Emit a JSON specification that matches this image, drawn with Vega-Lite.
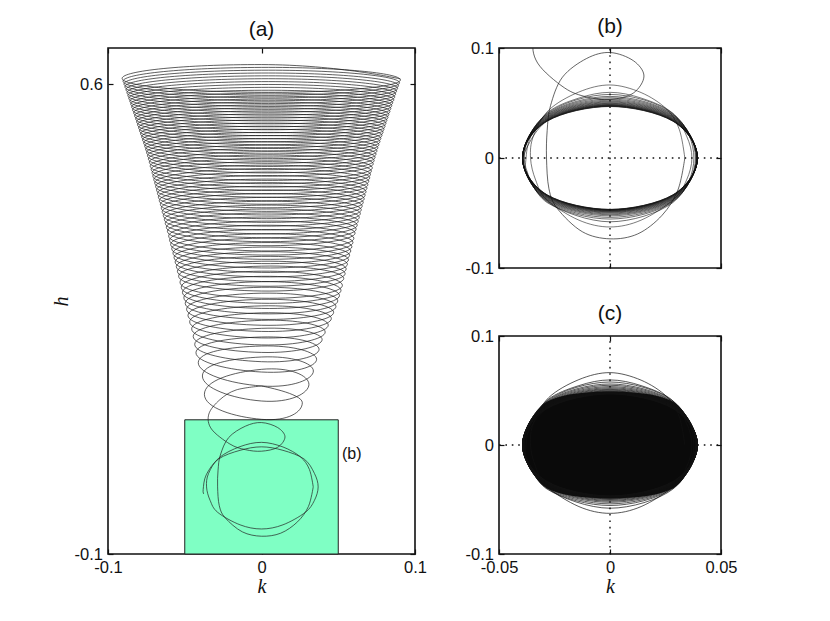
{"$schema":"https://vega.github.io/schema/vega-lite/v6.json","padding":{"left":50,"top":15,"right":0,"bottom":0},"background":"white","bounds":"flush","spacing":84,
"config":{"view":{"stroke":"#111","strokeWidth":1.6},"axis":{"grid":false,"domain":false,"offset":-5,"tickColor":"#111","tickWidth":1.2,"tickSize":5,"labelFont":"Liberation Sans","labelFontSize":16.5,"labelColor":"#111","labelFlush":false,"labelOverlap":false,"labelBound":false,"labelPadding":5.5,"titleFont":"Liberation Serif","titleFontStyle":"italic","titleFontWeight":"normal","titleFontSize":20,"titleColor":"#111","labelExpr":"replace(format(datum.value,'~g'),'\u2212','-')"},"title":{"font":"Liberation Sans","fontSize":21,"fontWeight":"normal","color":"#111","offset":7}},
"datasets":{
"cone":[{"k":0.0905,"h":0.608},{"k":0,"h":0.6294},{"k":-0.0908,"h":0.6088},{"k":0,"h":0.5881},{"k":0.0905,"h":0.6065},{"k":0,"h":0.6252},{"k":-0.0902,"h":0.6046},{"k":0,"h":0.5839},{"k":0.0899,"h":0.6023},{"k":0,"h":0.621},{"k":-0.0896,"h":0.6004},{"k":0,"h":0.5797},{"k":0.0893,"h":0.5981},{"k":0,"h":0.6168},{"k":-0.089,"h":0.5962},{"k":0,"h":0.5755},{"k":0.0887,"h":0.5939},{"k":0,"h":0.6126},{"k":-0.0883,"h":0.592},{"k":0,"h":0.5713},{"k":0.088,"h":0.5897},{"k":0,"h":0.6083},{"k":-0.0877,"h":0.5877},{"k":0,"h":0.567},{"k":0.0874,"h":0.5854},{"k":0,"h":0.604},{"k":-0.0871,"h":0.5834},{"k":0,"h":0.5627},{"k":0.0868,"h":0.5811},{"k":0,"h":0.5997},{"k":-0.0865,"h":0.5791},{"k":0,"h":0.5584},{"k":0.0862,"h":0.5768},{"k":0,"h":0.5954},{"k":-0.0858,"h":0.5748},{"k":0,"h":0.5541},{"k":0.0855,"h":0.5725},{"k":0,"h":0.5911},{"k":-0.0852,"h":0.5705},{"k":0,"h":0.5498},{"k":0.0849,"h":0.5682},{"k":0,"h":0.5868},{"k":-0.0846,"h":0.5662},{"k":0,"h":0.5455},{"k":0.0843,"h":0.5639},{"k":0,"h":0.5824},{"k":-0.084,"h":0.5618},{"k":0,"h":0.5411},{"k":0.0837,"h":0.5595},{"k":0,"h":0.578},{"k":-0.0833,"h":0.5574},{"k":0,"h":0.5367},{"k":0.083,"h":0.5551},{"k":0,"h":0.5736},{"k":-0.0827,"h":0.553},{"k":0,"h":0.5323},{"k":0.0824,"h":0.5507},{"k":0,"h":0.5692},{"k":-0.082,"h":0.5486},{"k":0,"h":0.5279},{"k":0.0817,"h":0.5463},{"k":0,"h":0.5648},{"k":-0.0814,"h":0.5442},{"k":0,"h":0.5235},{"k":0.0811,"h":0.5419},{"k":0,"h":0.5603},{"k":-0.0808,"h":0.5397},{"k":0,"h":0.519},{"k":0.0805,"h":0.5374},{"k":0,"h":0.5558},{"k":-0.0801,"h":0.5352},{"k":0,"h":0.5145},{"k":0.0798,"h":0.5329},{"k":0,"h":0.5513},{"k":-0.0795,"h":0.5307},{"k":0,"h":0.51},{"k":0.0792,"h":0.5284},{"k":0,"h":0.5468},{"k":-0.0788,"h":0.5262},{"k":0,"h":0.5055},{"k":0.0785,"h":0.5239},{"k":0,"h":0.5422},{"k":-0.0781,"h":0.5216},{"k":0,"h":0.5009},{"k":0.0778,"h":0.5193},{"k":0,"h":0.5376},{"k":-0.0775,"h":0.517},{"k":0,"h":0.4963},{"k":0.0772,"h":0.5147},{"k":0,"h":0.533},{"k":-0.0768,"h":0.5124},{"k":0,"h":0.4917},{"k":0.0765,"h":0.5101},{"k":0,"h":0.5283},{"k":-0.0761,"h":0.5077},{"k":0,"h":0.487},{"k":0.0758,"h":0.5054},{"k":0,"h":0.5236},{"k":-0.0755,"h":0.503},{"k":0,"h":0.4823},{"k":0.0752,"h":0.5007},{"k":0,"h":0.5189},{"k":-0.0749,"h":0.4983},{"k":0,"h":0.4776},{"k":0.0746,"h":0.496},{"k":0,"h":0.5141},{"k":-0.0743,"h":0.4935},{"k":0,"h":0.4728},{"k":0.074,"h":0.4912},{"k":0,"h":0.5093},{"k":-0.0737,"h":0.4887},{"k":0,"h":0.468},{"k":0.0734,"h":0.4864},{"k":0,"h":0.5044},{"k":-0.0731,"h":0.4838},{"k":0,"h":0.4631},{"k":0.0728,"h":0.4815},{"k":0,"h":0.4995},{"k":-0.0725,"h":0.4781},{"k":0,"h":0.4568},{"k":0.0722,"h":0.4755},{"k":0,"h":0.4946},{"k":-0.0719,"h":0.4732},{"k":0,"h":0.4519},{"k":0.0716,"h":0.4706},{"k":0,"h":0.4896},{"k":-0.0713,"h":0.4682},{"k":0,"h":0.4469},{"k":0.071,"h":0.4656},{"k":0,"h":0.4846},{"k":-0.0708,"h":0.4632},{"k":0,"h":0.4419},{"k":0.0705,"h":0.4606},{"k":0,"h":0.4795},{"k":-0.0702,"h":0.4581},{"k":0,"h":0.4368},{"k":0.0699,"h":0.4555},{"k":0,"h":0.4744},{"k":-0.0696,"h":0.453},{"k":0,"h":0.4317},{"k":0.0693,"h":0.4504},{"k":0,"h":0.4692},{"k":-0.069,"h":0.4478},{"k":0,"h":0.4265},{"k":0.0687,"h":0.4452},{"k":0,"h":0.464},{"k":-0.0684,"h":0.4426},{"k":0,"h":0.4213},{"k":0.0681,"h":0.44},{"k":0,"h":0.4587},{"k":-0.0678,"h":0.4373},{"k":0,"h":0.416},{"k":0.0675,"h":0.4347},{"k":0,"h":0.4534},{"k":-0.0672,"h":0.432},{"k":0,"h":0.4107},{"k":0.0669,"h":0.4294},{"k":0,"h":0.448},{"k":-0.0666,"h":0.4266},{"k":0,"h":0.4053},{"k":0.0663,"h":0.424},{"k":0,"h":0.4425},{"k":-0.0659,"h":0.4211},{"k":0,"h":0.3998},{"k":0.0656,"h":0.4185},{"k":0,"h":0.437},{"k":-0.0653,"h":0.4156},{"k":0,"h":0.3943},{"k":0.065,"h":0.413},{"k":0,"h":0.4314},{"k":-0.0647,"h":0.41},{"k":0,"h":0.3887},{"k":0.0644,"h":0.4074},{"k":0,"h":0.4257},{"k":-0.064,"h":0.4043},{"k":0,"h":0.383},{"k":0.0637,"h":0.4017},{"k":0,"h":0.4199},{"k":-0.0633,"h":0.3985},{"k":0,"h":0.3772},{"k":0.063,"h":0.3959},{"k":0,"h":0.4141},{"k":-0.0627,"h":0.3927},{"k":0,"h":0.3714},{"k":0.0624,"h":0.3901},{"k":0,"h":0.4082},{"k":-0.062,"h":0.3868},{"k":0,"h":0.3655},{"k":0.0617,"h":0.3842},{"k":0,"h":0.4022},{"k":-0.0613,"h":0.3808},{"k":0,"h":0.3595},{"k":0.061,"h":0.3782},{"k":0,"h":0.3961},{"k":-0.0605,"h":0.3739},{"k":0,"h":0.3517},{"k":0.0602,"h":0.3705},{"k":0,"h":0.3899},{"k":-0.0599,"h":0.3677},{"k":0,"h":0.3455},{"k":0.0596,"h":0.3643},{"k":0,"h":0.3836},{"k":-0.0592,"h":0.3614},{"k":0,"h":0.3392},{"k":0.0589,"h":0.358},{"k":0,"h":0.3772},{"k":-0.0585,"h":0.355},{"k":0,"h":0.3328},{"k":0.0582,"h":0.3516},{"k":0,"h":0.3707},{"k":-0.0577,"h":0.3485},{"k":0,"h":0.3263},{"k":0.0574,"h":0.3451},{"k":0,"h":0.3641},{"k":-0.057,"h":0.3419},{"k":0,"h":0.3197},{"k":0.0567,"h":0.3385},{"k":0,"h":0.3574},{"k":-0.0563,"h":0.3352},{"k":0,"h":0.313},{"k":0.056,"h":0.3318},{"k":0,"h":0.3505},{"k":-0.0555,"h":0.3283},{"k":0,"h":0.3061},{"k":0.0552,"h":0.3249},{"k":0,"h":0.3435},{"k":-0.0548,"h":0.3213},{"k":0,"h":0.2991},{"k":0.0545,"h":0.3179},{"k":0,"h":0.3363},{"k":-0.054,"h":0.3141},{"k":0,"h":0.2919},{"k":0.0536,"h":0.3107},{"k":0,"h":0.329},{"k":-0.0531,"h":0.3051},{"k":0,"h":0.2812},{"k":0.0527,"h":0.3004},{"k":0,"h":0.3215},{"k":-0.0523,"h":0.2976},{"k":0,"h":0.2737},{"k":0.0518,"h":0.2929},{"k":0,"h":0.3138},{"k":-0.0515,"h":0.2899},{"k":0,"h":0.266},{"k":0.0508,"h":0.2852},{"k":0,"h":0.3058},{"k":-0.0506,"h":0.2819},{"k":0,"h":0.258},{"k":0.0497,"h":0.2772},{"k":0,"h":0.2975},{"k":-0.0497,"h":0.2736},{"k":0,"h":0.2497},{"k":0.0485,"h":0.2689},{"k":0,"h":0.2887},{"k":-0.0488,"h":0.2648},{"k":0,"h":0.2409},{"k":0.047,"h":0.2601},{"k":0,"h":0.2795},{"k":-0.0479,"h":0.2556},{"k":0,"h":0.2317},{"k":0.0455,"h":0.2509},{"k":0,"h":0.2698},{"k":-0.0468,"h":0.2459},{"k":0,"h":0.222},{"k":0.0435,"h":0.2412},{"k":0,"h":0.2594},{"k":-0.0455,"h":0.2355},{"k":0,"h":0.2116},{"k":0.0415,"h":0.2308},{"k":0,"h":0.2482},{"k":-0.0445,"h":0.2243},{"k":0,"h":0.2004},{"k":0.0395,"h":0.2196},{"k":0,"h":0.2363},{"k":-0.0435,"h":0.2124},{"k":0,"h":0.1866},{"k":0.0375,"h":0.205},{"k":0,"h":0.2234},{"k":-0.0427,"h":0.2},{"k":0,"h":0.1712},{"k":0.0359,"h":0.1901},{"k":0,"h":0.21},{"k":-0.0412,"h":0.1851},{"k":0,"h":0.1504},{"k":0.0338,"h":0.1727},{"k":0,"h":0.1936},{"k":-0.0385,"h":0.1653},{"k":0,"h":0.128},{"k":0.0309,"h":0.1528},{"k":0,"h":0.1752},{"k":-0.0372,"h":0.138},{"k":0,"h":0.1007},{"k":0.0266,"h":0.1255},{"k":0,"h":0.1504}],
"early":[{"k":0,"h":0.1504},{"k":-0.0165,"h":0.1445},{"k":-0.0271,"h":0.13},{"k":-0.0343,"h":0.1086},{"k":-0.0326,"h":0.0863},{"k":-0.0206,"h":0.0639},{"k":-0.0105,"h":0.0555},{"k":0,"h":0.0532},{"k":0.0105,"h":0.059},{"k":0.0153,"h":0.0745},{"k":0.0105,"h":0.0885},{"k":0,"h":0.0959},{"k":-0.0105,"h":0.0905},{"k":-0.0214,"h":0.0735},{"k":-0.0268,"h":0.0475},{"k":-0.0283,"h":0.025},{"k":-0.0286,"h":0},{"k":-0.0275,"h":-0.028},{"k":-0.0237,"h":-0.046},{"k":-0.0125,"h":-0.067},{"k":0,"h":-0.0735},{"k":0.0125,"h":-0.069},{"k":0.0235,"h":-0.052},{"k":0.0306,"h":-0.029},{"k":0.0337,"h":0}],
"mid":[{"k":0.0337,"h":0},{"k":0.0312,"h":0.026},{"k":0.0255,"h":0.0445},{"k":0.014,"h":0.0595},{"k":0,"h":0.0664},{"k":-0.014,"h":0.06},{"k":-0.0276,"h":0.0435},{"k":-0.0345,"h":0.02},{"k":-0.0358,"h":0},{"k":-0.0335,"h":-0.02},{"k":-0.0285,"h":-0.038},{"k":-0.014,"h":-0.0565},{"k":0,"h":-0.0627},{"k":0.014,"h":-0.0565},{"k":0.0285,"h":-0.038},{"k":0.0345,"h":-0.02},{"k":0.0369,"h":0},{"k":0.0345,"h":0.02},{"k":0.0278,"h":0.0415},{"k":0.014,"h":0.0545},{"k":0,"h":0.0597},{"k":-0.014,"h":0.0545},{"k":-0.028,"h":0.0415},{"k":-0.036,"h":0.018},{"k":-0.038,"h":-0.004},{"k":-0.0376,"h":-0.0106}],
"late":[{"k":-0.0376,"h":-0.0106},{"k":-0.0283,"h":-0.0405},{"k":0,"h":-0.058},{"k":0.0283,"h":-0.0405},{"k":0.0378,"h":0},{"k":0.0283,"h":0.0405},{"k":0,"h":0.0578},{"k":-0.0283,"h":0.0405},{"k":-0.0386,"h":0},{"k":-0.0283,"h":-0.0398},{"k":0,"h":-0.0555},{"k":0.0283,"h":-0.0398},{"k":0.0385,"h":0},{"k":0.0283,"h":0.0398},{"k":0,"h":0.056},{"k":-0.0283,"h":0.0398},{"k":-0.039,"h":0},{"k":-0.0283,"h":-0.0392},{"k":0,"h":-0.054},{"k":0.0283,"h":-0.0392},{"k":0.0388,"h":0},{"k":0.0283,"h":0.0392},{"k":0,"h":0.0548},{"k":-0.0283,"h":0.0392},{"k":-0.0392,"h":0},{"k":-0.0283,"h":-0.0386},{"k":0,"h":-0.0526},{"k":0.0283,"h":-0.0386},{"k":0.039,"h":0},{"k":0.0283,"h":0.0386},{"k":0,"h":0.0536},{"k":-0.0283,"h":0.0386},{"k":-0.0393,"h":0},{"k":-0.0283,"h":-0.038},{"k":0,"h":-0.0516},{"k":0.0283,"h":-0.038},{"k":0.0391,"h":0},{"k":0.0283,"h":0.038},{"k":0,"h":0.0526},{"k":-0.0283,"h":0.038},{"k":-0.0394,"h":0},{"k":-0.0283,"h":-0.0375},{"k":0,"h":-0.0508},{"k":0.0283,"h":-0.0375},{"k":0.0392,"h":0},{"k":0.0283,"h":0.0375},{"k":0,"h":0.0517},{"k":-0.0283,"h":0.0375},{"k":-0.0394,"h":0},{"k":-0.0283,"h":-0.037},{"k":0,"h":-0.05},{"k":0.0283,"h":-0.037},{"k":0.0393,"h":0},{"k":0.0283,"h":0.037},{"k":0,"h":0.051},{"k":-0.0283,"h":0.037},{"k":-0.0394,"h":0},{"k":-0.0283,"h":-0.0365},{"k":0,"h":-0.0494},{"k":0.0283,"h":-0.0365},{"k":0.0393,"h":0},{"k":0.0283,"h":0.0365},{"k":0,"h":0.0503},{"k":-0.0283,"h":0.0365},{"k":-0.0394,"h":0},{"k":-0.0283,"h":-0.036},{"k":0,"h":-0.0489},{"k":0.0283,"h":-0.036},{"k":0.0394,"h":0},{"k":0.0283,"h":0.036},{"k":0,"h":0.0497},{"k":-0.0283,"h":0.036},{"k":-0.0394,"h":0},{"k":-0.0283,"h":-0.0356},{"k":0,"h":-0.0485},{"k":0.0283,"h":-0.0356},{"k":0.0394,"h":0},{"k":0.0283,"h":0.0356},{"k":0,"h":0.0492},{"k":-0.0283,"h":0.0356},{"k":-0.0394,"h":0},{"k":-0.0283,"h":-0.0352},{"k":0,"h":-0.0481},{"k":0.0283,"h":-0.0352},{"k":0.0394,"h":0},{"k":0.0283,"h":0.0352},{"k":0,"h":0.0487},{"k":-0.0283,"h":0.0352},{"k":-0.0394,"h":0},{"k":-0.0283,"h":-0.0348},{"k":0,"h":-0.0478},{"k":0.0283,"h":-0.0348},{"k":0.0394,"h":0},{"k":0.0283,"h":0.0348},{"k":0,"h":0.0483},{"k":-0.0283,"h":0.0348},{"k":-0.0394,"h":0},{"k":-0.0283,"h":-0.0345},{"k":0,"h":-0.0475},{"k":0.0283,"h":-0.0345},{"k":0.0394,"h":0},{"k":0.0283,"h":0.0345},{"k":0,"h":0.048},{"k":-0.0283,"h":0.0345},{"k":-0.0394,"h":0},{"k":-0.0283,"h":-0.0342},{"k":0,"h":-0.0473},{"k":0.0283,"h":-0.0342},{"k":0.0394,"h":0},{"k":0.0283,"h":0.0342},{"k":0,"h":0.0477},{"k":-0.0283,"h":0.0342},{"k":-0.0394,"h":0},{"k":-0.0283,"h":-0.034},{"k":0,"h":-0.0471},{"k":0.0283,"h":-0.034},{"k":0.0394,"h":0},{"k":0.0283,"h":0.034},{"k":0,"h":0.0474},{"k":-0.0283,"h":0.034},{"k":-0.0394,"h":0},{"k":-0.0283,"h":-0.0338},{"k":0,"h":-0.0469},{"k":0.0283,"h":-0.0338},{"k":0.0394,"h":0},{"k":0.0283,"h":0.0338},{"k":0,"h":0.0472},{"k":-0.0283,"h":0.0338},{"k":-0.0394,"h":0},{"k":-0.0283,"h":-0.0336},{"k":0,"h":-0.0468},{"k":0.0283,"h":-0.0336},{"k":0.0394,"h":0},{"k":0.0283,"h":0.0336},{"k":0,"h":0.047},{"k":-0.0283,"h":0.0336},{"k":-0.0394,"h":0},{"k":-0.0283,"h":-0.0335},{"k":0,"h":-0.0467},{"k":0.0283,"h":-0.0335},{"k":0.0394,"h":0},{"k":0.0283,"h":0.0335},{"k":0,"h":0.0468},{"k":-0.0283,"h":0.0335},{"k":-0.0394,"h":0}],
"lens":[{"k":-0.0394,"t":0,"b":0},{"k":-0.0383,"t":0.0101,"b":-0.0101},{"k":-0.0338,"t":0.0284,"b":-0.0284},{"k":-0.0278,"t":0.0404,"b":-0.0404},{"k":-0.0128,"t":0.0477,"b":-0.0477},{"k":0,"t":0.049,"b":-0.049},{"k":0.0128,"t":0.0477,"b":-0.0477},{"k":0.0278,"t":0.0404,"b":-0.0404},{"k":0.0338,"t":0.0284,"b":-0.0284},{"k":0.0383,"t":0.0101,"b":-0.0101},{"k":0.0394,"t":0,"b":0}],
"cross":[{"k":0,"h":-0.1,"g":"v"},{"k":0,"h":0.1,"g":"v"},{"k":-0.05,"h":0,"g":"h"},{"k":0.05,"h":0,"g":"h"}]
},
"hconcat":[
{"title":"(a)","width":307,"height":506,
"encoding":{"x":{"field":"k","type":"quantitative","scale":{"domain":[-0.1,0.1]},"axis":null},"y":{"field":"h","type":"quantitative","scale":{"domain":[-0.1,0.6541]},"axis":null}},
"resolve":{"axis":{"x":"independent","y":"independent"}},
"layer":[
{"data":{"values":[{"k":-0.05,"k2":0.05,"h":-0.1,"h2":0.1}]},"mark":{"type":"rect","fill":"#7FFFC4","stroke":"#222","strokeWidth":1},"encoding":{"x2":{"field":"k2"},"y2":{"field":"h2"}}},
{"data":{"name":"cone"},"mark":{"type":"line","interpolate":"cardinal","tension":-0.65,"order":null,"color":"#1a1a1a","strokeWidth":0.7},
"encoding":{"x":{"field":"k","type":"quantitative","scale":{"domain":[-0.1,0.1]},"axis":{"orient":"bottom","values":[-0.1,0,0.1],"title":"k","titlePadding":0}},"y":{"field":"h","type":"quantitative","scale":{"domain":[-0.1,0.6541]},"axis":{"orient":"left","values":[-0.1,0.6],"title":"h","titlePadding":3}}}},
{"data":{"name":"early"},"mark":{"type":"line","interpolate":"cardinal","tension":0,"order":null,"color":"#222","strokeWidth":0.7},
"encoding":{"x":{"field":"k","type":"quantitative","scale":{"domain":[-0.1,0.1]},"axis":{"orient":"top","values":[-0.1,0,0.1],"labels":false,"title":null}},"y":{"field":"h","type":"quantitative","scale":{"domain":[-0.1,0.6541]},"axis":{"orient":"right","values":[-0.1,0.6],"labels":false,"title":null}}}},
{"data":{"name":"mid"},"mark":{"type":"line","interpolate":"cardinal","tension":0,"order":null,"color":"#222","strokeWidth":0.7}},
{"data":{"values":[{"k":0.0524,"h":0.049,"t":"(b)"}]},"mark":{"type":"text","align":"left","baseline":"middle","font":"Liberation Sans","fontSize":16,"color":"#111"},"encoding":{"text":{"field":"t"}}}
]},
{"bounds":"flush","spacing":68,"vconcat":[
{"title":{"text":"(b)","offset":3},"width":222,"height":220,
"encoding":{"x":{"field":"k","type":"quantitative","scale":{"domain":[-0.05,0.05]},"axis":null},"y":{"field":"h","type":"quantitative","scale":{"domain":[-0.1,0.1]},"axis":null}},
"resolve":{"axis":{"x":"independent","y":"independent"}},
"layer":[
{"data":{"name":"cross"},"mark":{"type":"line","order":null,"color":"#111","strokeWidth":1.4,"strokeDash":[1.6,4.8]},"encoding":{"detail":{"field":"g"}}},
{"data":{"name":"early"},"mark":{"type":"line","interpolate":"cardinal","tension":0,"order":null,"clip":true,"color":"#222","strokeWidth":0.7},
"encoding":{"x":{"field":"k","type":"quantitative","scale":{"domain":[-0.05,0.05]},"axis":{"orient":"bottom","values":[-0.05,0,0.05],"labels":false,"title":null}},"y":{"field":"h","type":"quantitative","scale":{"domain":[-0.1,0.1]},"axis":{"orient":"left","values":[-0.1,0,0.1],"title":null}}}},
{"data":{"name":"mid"},"mark":{"type":"line","interpolate":"cardinal","tension":0,"order":null,"color":"#222","strokeWidth":0.6},
"encoding":{"x":{"field":"k","type":"quantitative","scale":{"domain":[-0.05,0.05]},"axis":{"orient":"top","values":[-0.05,0,0.05],"labels":false,"title":null}},"y":{"field":"h","type":"quantitative","scale":{"domain":[-0.1,0.1]},"axis":{"orient":"right","values":[-0.1,0,0.1],"labels":false,"title":null}}}},
{"data":{"name":"late"},"mark":{"type":"line","interpolate":"cardinal","tension":0,"order":null,"color":"#111","strokeWidth":0.6}}
]},
{"title":{"text":"(c)","offset":4},"width":222,"height":218,
"encoding":{"x":{"field":"k","type":"quantitative","scale":{"domain":[-0.05,0.05]},"axis":null},"y":{"field":"h","type":"quantitative","scale":{"domain":[-0.1,0.1]},"axis":null}},
"resolve":{"axis":{"x":"independent","y":"independent"}},
"layer":[
{"data":{"name":"cross"},"mark":{"type":"line","order":null,"color":"#111","strokeWidth":1.4,"strokeDash":[1.6,4.8]},"encoding":{"detail":{"field":"g"}}},
{"data":{"name":"lens"},"mark":{"type":"area","interpolate":"monotone","color":"#0a0a0a"},"encoding":{"y":{"field":"t","type":"quantitative","scale":{"domain":[-0.1,0.1]},"axis":null},"y2":{"field":"b"}}},
{"data":{"name":"mid"},"mark":{"type":"line","interpolate":"cardinal","tension":0,"order":null,"color":"#111","strokeWidth":0.7},
"encoding":{"x":{"field":"k","type":"quantitative","scale":{"domain":[-0.05,0.05]},"axis":{"orient":"bottom","values":[-0.05,0,0.05],"title":"k","titlePadding":0}},"y":{"field":"h","type":"quantitative","scale":{"domain":[-0.1,0.1]},"axis":{"orient":"left","values":[-0.1,0,0.1],"title":null}}}},
{"data":{"name":"late"},"mark":{"type":"line","interpolate":"cardinal","tension":0,"order":null,"color":"#111","strokeWidth":0.7},
"encoding":{"x":{"field":"k","type":"quantitative","scale":{"domain":[-0.05,0.05]},"axis":{"orient":"top","values":[-0.05,0,0.05],"labels":false,"title":null}},"y":{"field":"h","type":"quantitative","scale":{"domain":[-0.1,0.1]},"axis":{"orient":"right","values":[-0.1,0,0.1],"labels":false,"title":null}}}}
]}
]}
]}
